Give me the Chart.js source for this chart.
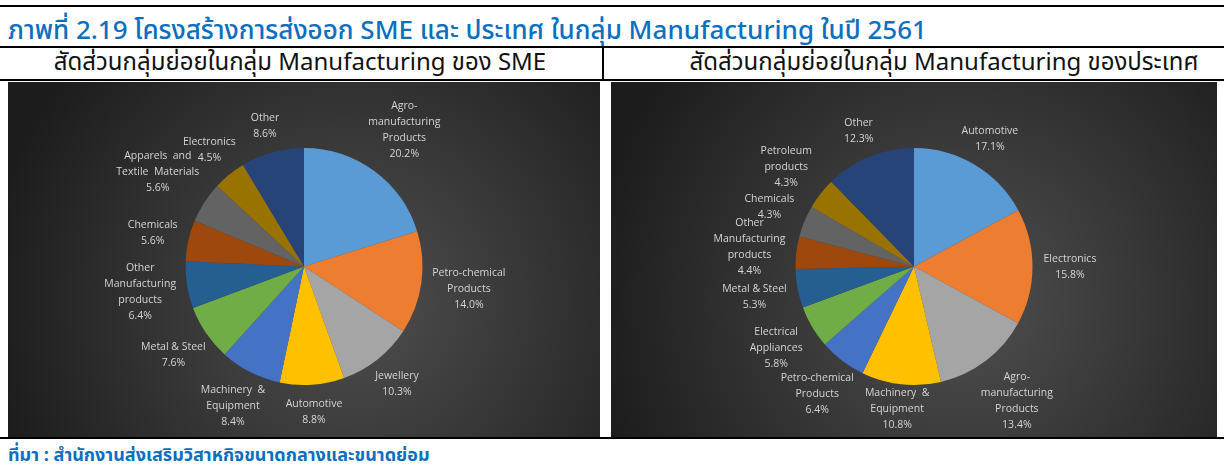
<!DOCTYPE html>
<html><head><meta charset="utf-8">
<script src="https://cdn.jsdelivr.net/npm/chart.js@4.4.1/dist/chart.umd.min.js"></script>
<style>
html,body{margin:0;padding:0;background:#fff;width:1224px;height:474px;overflow:hidden;font-family:"Noto Sans Thai","Noto Sans","Open Sans",sans-serif;}
.abs{position:absolute;}
.line{position:absolute;background:#000;}
#title{left:8px;top:14px;font-size:26px;line-height:34px;font-weight:500;color:#0B6FC0;white-space:nowrap;}
.sub{top:47px;font-size:24px;line-height:33px;color:#111;white-space:nowrap;text-align:center;}
#src{left:8px;top:443px;font-size:18px;line-height:26px;font-weight:700;color:#0B6FC0;white-space:nowrap;}
</style></head>
<body>
<div class="line" style="left:0;top:5px;width:1224px;height:2px"></div>
<div id="title" class="abs">ภาพที่ 2.19 โครงสร้างการส่งออก SME และ ประเทศ ในกลุ่ม Manufacturing ในปี 2561</div>
<div class="line" style="left:0;top:46px;width:1224px;height:2px"></div>
<div class="abs sub" style="left:0;width:600px">สัดส่วนกลุ่มย่อยในกลุ่ม Manufacturing ของ SME</div>
<div class="abs sub" style="left:634px;width:620px">สัดส่วนกลุ่มย่อยในกลุ่ม Manufacturing ของประเทศ</div>
<div class="line" style="left:602px;top:47px;width:1.5px;height:33px"></div>
<div class="line" style="left:0;top:79px;width:1224px;height:2px"></div>
<div class="abs" style="left:8px;top:82px;width:592px;height:355px"><canvas id="c1" width="592" height="355"></canvas></div>
<div class="abs" style="left:611px;top:82px;width:606px;height:355px"><canvas id="c2" width="606" height="355"></canvas></div>
<div class="line" style="left:0;top:437px;width:1224px;height:2px"></div>
<div id="src" class="abs">ที่มา : สำนักงานส่งเสริมวิสาหกิจขนาดกลางและขนาดย่อม</div>
<script>
// ---- data ----
const smeCategories = ["Agro-\nmanufacturing\nProducts","Petro-chemical\nProducts","Jewellery","Automotive","Machinery  &\nEquipment","Metal & Steel","Other\nManufacturing\nproducts","Chemicals","Apparels  and\nTextile  Materials","Electronics","Other"];
const smeValues = [20.2,14.0,10.3,8.8,8.4,7.6,6.4,5.6,5.6,4.5,8.6];
const thCategories = ["Automotive","Electronics","Agro-\nmanufacturing\nProducts","Machinery  &\nEquipment","Petro-chemical\nProducts","Electrical\nAppliances","Metal & Steel","Other\nManufacturing\nproducts","Chemicals","Petroleum\nproducts","Other"];
const thValues = [17.1,15.8,13.4,10.8,6.4,5.8,5.3,4.4,4.3,4.3,12.3];
const palette = ['#5B9BD5','#ED7D31','#A5A5A5','#FFC000','#4472C4','#70AD47','#255E91','#9E480E','#636363','#997300','#264478'];

const bgPlugin = {
  id:'bg',
  beforeDraw(chart){
    const {ctx,width,height} = chart;
    const g = ctx.createRadialGradient(width*0.58,height*0.62,10,width*0.58,height*0.62,width*0.62);
    g.addColorStop(0,'#4e4e4e');
    g.addColorStop(1,'#1c1c1c');
    ctx.save();ctx.fillStyle=g;ctx.fillRect(0,0,width,height);ctx.restore();
  }
};
const labelPlugin = {
  id:'outLabels',
  afterDatasetsDraw(chart){
    const ctx = chart.ctx;
    const meta = chart.getDatasetMeta(0);
    const ds = chart.data.datasets[0];
    const lh = 16, gap = 11;
    ctx.save();
    ctx.font = '10.5px "Open Sans", sans-serif';
    ctx.fillStyle = '#d4d4d4';
    ctx.textAlign='center';ctx.textBaseline='middle';
    meta.data.forEach((arc,i)=>{
      const p = arc.getProps(['x','y','startAngle','endAngle','outerRadius'],true);
      const mid = (p.startAngle+p.endAngle)/2;
      const dx = Math.cos(mid), dy = Math.sin(mid);
      const lines = chart.data.labels[i].split('\n').concat([ds.data[i].toFixed(1)+'%']);
      const w = Math.max(...lines.map(l=>ctx.measureText(l).width));
      const h = lines.length*lh;
      const ext = Math.min(Math.abs(dx)>1e-6? (w/2)/Math.abs(dx):1e9, Math.abs(dy)>1e-6?(h/2)/Math.abs(dy):1e9);
      const d = p.outerRadius + gap + ext;
      const cx = p.x + dx*d;
      const cy = Math.min(p.y + dy*d, chart.height - h/2 - 4);
      lines.forEach((l,k)=>{ ctx.fillText(l, cx, cy - h/2 + lh/2 + k*lh); });
    });
    ctx.restore();
  }
};
function makePie(id, cats, vals){
  new Chart(document.getElementById(id),{
    type:'pie',
    data:{labels:cats,datasets:[{data:vals,backgroundColor:palette,borderWidth:0}]},
    options:{responsive:false,animation:false,devicePixelRatio:1,
      layout:{padding:{top:66,bottom:52}},
      plugins:{legend:{display:false},tooltip:{enabled:false}}},
    plugins:[bgPlugin,labelPlugin]
  });
}
makePie('c1', smeCategories, smeValues);
makePie('c2', thCategories, thValues);
</script>
</body></html>
